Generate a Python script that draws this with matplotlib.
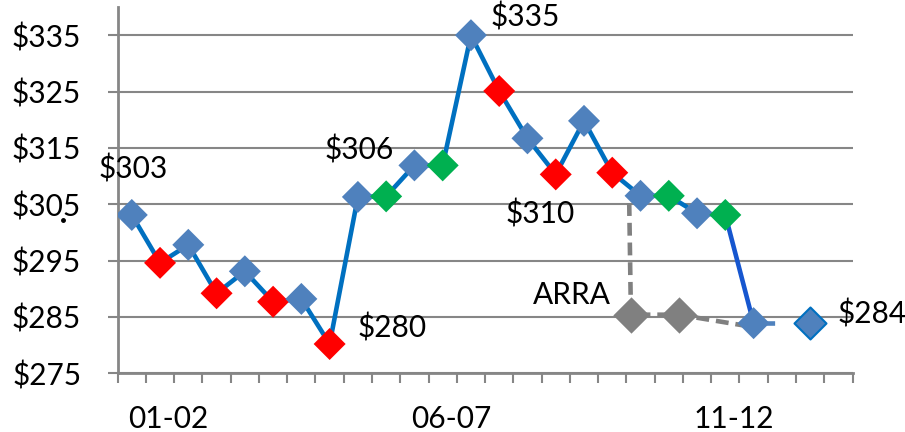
import matplotlib
matplotlib.use("Agg")
import matplotlib.pyplot as plt
from matplotlib.lines import Line2D
import numpy as np

plt.rcParams['font.family'] = ['Lato', 'DejaVu Sans']

# half-year categories, 26 slots on the axis
n_slots = 26
price = [303.1, 294.6, 297.8, 289.2, 293.1, 287.7, 288.2, 280.2,
         306.3, 306.4, 311.9, 311.9, 335.0, 325.1, 316.7, 310.3,
         319.8, 310.6, 306.5, 306.5, 303.4, 303.1, 283.9, np.nan, 283.9]
kind = ['b', 'r', 'b', 'r', 'b', 'r', 'b', 'r',
        'b', 'g', 'b', 'g', 'b', 'r', 'b', 'r',
        'b', 'r', 'b', 'g', 'b', 'g', 'b', None, 'b']
kind_color = {'b': '#4F81BD', 'r': '#FF0000', 'g': '#00B050'}

arra_x = [17.6, 17.66, 19.35, 22.0]
arra_y = [305.2, 285.4, 285.4, 283.2]

xlabels = ['01-02', '06-07', '11-12']
xlabel_pos = [1.3, 11.3, 21.3]

labels = [(0, '$303', 1, 46), (8, '$306', 1, 47), (12, '$335', 54, 18),
          (7, '$280', 62, 16), (15, '$310', -16, -40), (24, '$284', 62, 9)]

grid_c = '#868686'
fs = 21.5
lw = 3.3

fig = plt.figure(figsize=(9.05, 4.32), dpi=100)
ax = fig.add_axes([0.130, 0.1359, 0.812, 0.8478])

x = np.arange(len(price))
y = np.array(price)

# main line up to the drop, then the darker drop segment
ax.plot(x[:22], y[:22], color='#0070C0', lw=lw, zorder=3, solid_capstyle='round')
ax.plot(x[21:23], y[21:23], color='#1656CF', lw=lw, zorder=3)
# dashed projection to last point
ax.plot([x[22], x[24]], [y[22], y[24]], color='#4F81BD', lw=lw,
        dashes=(4.5, 8), zorder=3)

# ARRA comparison line
ax.plot(arra_x, arra_y, color='#808080', lw=lw, dashes=(2.8, 1.5), zorder=2)
ax.scatter(arra_x[1:3], arra_y[1:3], marker='D', s=18.5**2, color='#808080',
           linewidths=0, zorder=4)

for i, k in enumerate(kind):
    if k is None:
        continue
    ec = '#0070C0' if i == len(kind) - 1 else 'none'
    ax.scatter(x[i], y[i], marker='D', s=16.3**2, color=kind_color[k],
               edgecolors=ec, linewidths=1.5, zorder=5)

for i, t, dx, dy in labels:
    ax.annotate(t, (x[i], y[i]), xytext=(dx, dy), textcoords='offset pixels',
                ha='center', va='center', fontsize=fs, color='black')
ax.annotate('ARRA', (arra_x[1], arra_y[1]), xytext=(-59, 20),
            textcoords='offset pixels', ha='center', va='center',
            fontsize=fs, color='black')

ax.set_xlim(-0.5, n_slots - 0.5)
ax.set_ylim(275, 340)
ax.set_yticks(np.arange(275, 340, 10))
ax.set_yticklabels([f'${v}' for v in range(275, 340, 10)])
ax.yaxis.grid(True, color=grid_c, lw=1.5)
ax.set_axisbelow(True)

ax.set_xticks(np.arange(-0.5, n_slots, 1), minor=True)
ax.set_xticks(xlabel_pos)
ax.set_xticklabels(xlabels)
ax.tick_params(axis='x', which='major', length=0, pad=22.5, labelsize=fs)
ax.tick_params(axis='x', which='minor', length=7.2, width=1.5, color=grid_c,
               direction='out')
ax.tick_params(axis='y', length=7.2, width=1.5, color=grid_c, pad=19,
               labelsize=fs)

for s in ['top', 'right']:
    ax.spines[s].set_visible(False)
for s in ['left', 'bottom']:
    ax.spines[s].set_color(grid_c)
    ax.spines[s].set_linewidth(2)

# stray dot under the $305 label
fig.add_artist(Line2D([63 / 905], [1 - 220 / 432], marker='o', ms=2.5,
                      color='black', transform=fig.transFigure))

fig.savefig('out.png', dpi=100)
